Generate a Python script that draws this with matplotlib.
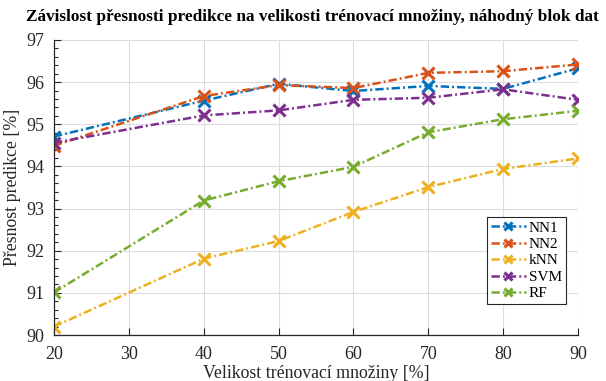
import matplotlib
matplotlib.use("Agg")
import matplotlib.pyplot as plt
from matplotlib.ticker import MultipleLocator

plt.rcParams['font.family'] = ['Liberation Serif', 'DejaVu Serif']
plt.rcParams['lines.scale_dashes'] = False

train_size = [20, 40, 50, 60, 70, 80, 90]
nn1 = [94.71, 95.56, 95.96, 95.79, 95.91, 95.84, 96.33]
nn2 = [94.49, 95.67, 95.93, 95.86, 96.22, 96.26, 96.42]
knn = [90.20, 91.81, 92.23, 92.92, 93.51, 93.94, 94.19]
svm = [94.56, 95.21, 95.33, 95.58, 95.63, 95.83, 95.58]
rf = [91.01, 93.19, 93.65, 93.99, 94.81, 95.12, 95.32]

series = [("NN1", nn1, "#0072BD"), ("NN2", nn2, "#D95319"),
          ("kNN", knn, "#EDB120"), ("SVM", svm, "#7E2F8E"),
          ("RF", rf, "#77AC30")]

fig = plt.figure(figsize=(6.06, 3.81), dpi=100)
ax = fig.add_axes([54/606, 1-335/381, (578-54)/606, (335-40)/381])

for name, vals, col in series:
    ax.plot(train_size, vals, linestyle=(0, (6, 2.2, 1.4, 2.2)), color=col,
            linewidth=1.8, marker='x', markersize=8, markeredgewidth=2.2,
            label=name)

ax.set_xlim(20, 90)
ax.set_ylim(90, 97)
ax.set_xticks([20, 30, 40, 50, 60, 70, 80, 90])
ax.set_yticks(range(90, 98))
ax.yaxis.set_minor_locator(MultipleLocator(0.2))
ax.grid(True, color='#dcdcdc', linewidth=0.8)
ax.set_axisbelow(True)
ax.tick_params(direction='in', labelsize=13, colors='#262626', length=5,
               width=0.8)
ax.tick_params(axis='x', pad=8)
ax.tick_params(axis='y', pad=7)
ax.tick_params(which='minor', direction='in', length=3, width=0.8, colors='#262626')
for s in ['left', 'bottom']:
    ax.spines[s].set_color('#262626')
    ax.spines[s].set_linewidth(0.9)
for s in ['top', 'right']:
    ax.spines[s].set_visible(False)

ax.set_xlabel('Velikost trénovací množiny [%]', fontsize=12.8, color='#262626', labelpad=1)
ax.set_ylabel('Přesnost predikce [%]', fontsize=12.8, color='#262626', labelpad=4)
fig.text(312/606, 1-17/381,
         'Závislost přesnosti predikce na velikosti trénovací množiny, náhodný blok dat',
         fontsize=12.45, fontweight='bold', color='black', ha='center', va='center')

leg = ax.legend(loc='upper left', bbox_to_anchor=((487-54)/524, (335-217)/295),
                fontsize=11, frameon=True, fancybox=False, edgecolor='#262626',
                framealpha=1, handlelength=2.3, handletextpad=0.2,
                labelspacing=0.18, borderpad=0.25, borderaxespad=0,
                markerscale=0.75)
leg.get_frame().set_linewidth(0.8)

fig.savefig('out.png', dpi=100)
